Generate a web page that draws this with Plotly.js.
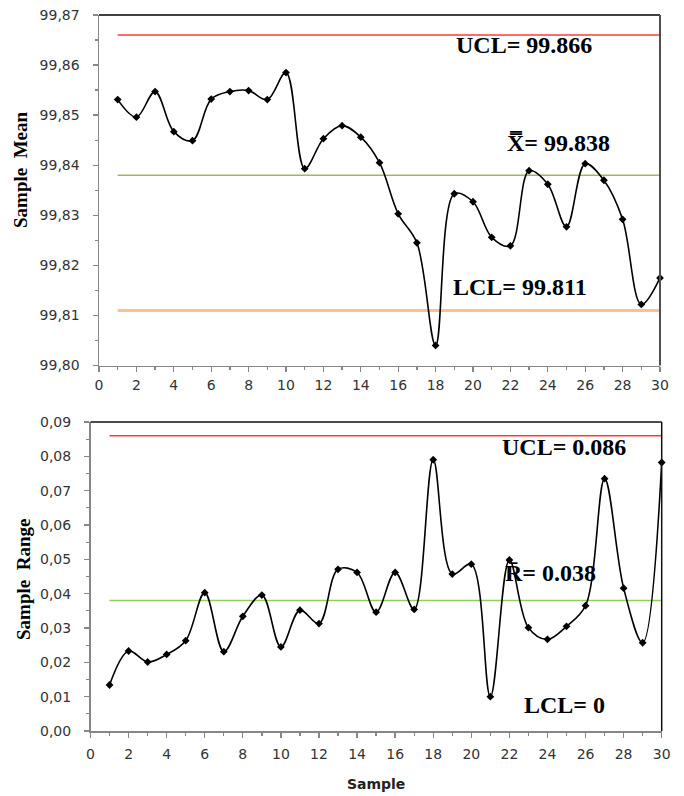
<!DOCTYPE html>
<html>
<head>
<meta charset="utf-8">
<script src="https://cdn.plot.ly/plotly-3.0.1.min.js"></script>
<style>html,body{margin:0;padding:0;background:#fff}#chart{width:684px;height:796px}</style>
</head>
<body>
<div id="chart"></div>
<script>
// ---- data ----
const sampleNo = [1,2,3,4,5,6,7,8,9,10,11,12,13,14,15,16,17,18,19,20,21,22,23,24,25,26,27,28,29,30];
const meanVals = [99.8531, 99.8496, 99.8547, 99.8467, 99.8449, 99.8532, 99.8547, 99.8549, 99.8531, 99.8585,
                  99.8393, 99.8453, 99.8479, 99.8456, 99.8405, 99.8303, 99.8245, 99.8040, 99.8343, 99.8327,
                  99.8256, 99.8239, 99.8389, 99.8362, 99.8277, 99.8403, 99.8370, 99.8292, 99.8122, 99.8175];
const rangeVals = [0.0134, 0.0233, 0.0201, 0.0223, 0.0263, 0.0403, 0.0231, 0.0334, 0.0396, 0.0245,
                   0.0352, 0.0313, 0.0471, 0.0462, 0.0346, 0.0462, 0.0354, 0.0790, 0.0457, 0.0486,
                   0.0100, 0.0498, 0.0301, 0.0267, 0.0305, 0.0365, 0.0735, 0.0416, 0.0257, 0.0782];
const limitSpan = [1, 30];
const xbarLimits = {UCL: 99.866, CL: 99.838, LCL: 99.811};
const rLimits = {UCL: 0.086, CL: 0.038, LCL: 0};
const meanTicks = [99.80, 99.81, 99.82, 99.83, 99.84, 99.85, 99.86, 99.87];
const rangeTicks = [0, 0.01, 0.02, 0.03, 0.04, 0.05, 0.06, 0.07, 0.08, 0.09];
const sampleTicks = [0,2,4,6,8,10,12,14,16,18,20,22,24,26,28,30];

// ---- styles ----
const tickFont = {family: 'DejaVu Sans', size: 14, color: '#333333'};
const annFont = {family: 'Liberation Serif', size: 24, color: '#000000'};
const axisGray = '#868686';

function flat(v) { return limitSpan.map(() => v); }
function limitTrace(v, color, width, xa, ya) {
  return {x: limitSpan, y: flat(v), mode: 'lines', xaxis: xa, yaxis: ya,
          line: {color: color, width: width}, hoverinfo: 'skip', showlegend: false};
}
function dataTrace(vals, xa, ya) {
  return {x: sampleNo, y: vals, mode: 'lines+markers', xaxis: xa, yaxis: ya,
          line: {color: '#000000', width: 1.6, shape: 'spline', smoothing: 1.0},
          marker: {symbol: 'diamond', size: 6, color: '#000000'},
          cliponaxis: false, showlegend: false};
}

const traces = [
  limitTrace(xbarLimits.UCL, '#FF3B3B', 1.6, 'x', 'y'),
  limitTrace(xbarLimits.CL, '#9BBB59', 1.6, 'x', 'y'),
  limitTrace(xbarLimits.LCL, '#FAC090', 3, 'x', 'y'),
  dataTrace(meanVals, 'x', 'y'),
  limitTrace(rLimits.UCL, '#FF3B3B', 1.6, 'x2', 'y2'),
  limitTrace(rLimits.CL, '#92D050', 1.6, 'x2', 'y2'),
  dataTrace(rangeVals, 'x2', 'y2')
];

function xAxis(domain, anchor, standoff) {
  return {domain: domain, anchor: anchor, range: [0, 30], tickvals: sampleTicks,
          ticks: 'outside', ticklen: 5, tickcolor: axisGray, tickwidth: 1.3,
          minor: {dtick: 1, tick0: 0, ticks: 'outside', ticklen: 3, tickcolor: axisGray},
          showline: true, linecolor: axisGray, linewidth: 1.5, showgrid: false, zeroline: false,
          tickfont: tickFont, ticklabelstandoff: standoff, fixedrange: true};
}
function yAxis(domain, anchor, range, ticks, standoff) {
  return {domain: domain, anchor: anchor, range: range, tickvals: ticks, tickformat: '.2f',
          ticks: 'outside', ticklen: 5, tickcolor: axisGray, tickwidth: 1.3,
          minor: {dtick: (ticks[1]-ticks[0])/2, tick0: ticks[0], ticks: 'outside', ticklen: 3, tickcolor: axisGray},
          showline: true, linecolor: axisGray, linewidth: 1.5, showgrid: false, zeroline: false,
          tickfont: tickFont, ticklabelstandoff: standoff, fixedrange: true};
}

const layout = {
  width: 684, height: 796,
  margin: {l: 0, r: 0, t: 0, b: 0},
  paper_bgcolor: '#ffffff', plot_bgcolor: '#ffffff',
  separators: ',.',
  showlegend: false,
  xaxis: xAxis([99/684, 660/684], 'y', 1),
  yaxis: yAxis([(796-365.5)/796, (796-15)/796], 'x', [99.80, 99.87], meanTicks, 10),
  xaxis2: Object.assign(xAxis([90.5/684, 661.7/684], 'y2', 5),
          {title: {text: 'Sample', font: {family: 'DejaVu Sans', size: 14, color: '#222', weight: 'bold'}, standoff: 18}}),
  yaxis2: yAxis([(796-731)/796, (796-422)/796], 'x2', [0, 0.09], rangeTicks, 10),
  shapes: [
    {type: 'line', xref: 'x domain', yref: 'y domain', x0: 0, x1: 1, y0: 1, y1: 1, line: {color: '#404040', width: 2}},
    {type: 'line', xref: 'x domain', yref: 'y domain', x0: 1, x1: 1, y0: 0, y1: 1, line: {color: '#505050', width: 2}},
    {type: 'line', xref: 'x2 domain', yref: 'y2 domain', x0: 0, x1: 1, y0: 1, y1: 1, line: {color: '#111111', width: 1.5}},
    {type: 'line', xref: 'x2 domain', yref: 'y2 domain', x0: 1, x1: 1, y0: 0, y1: 1, line: {color: '#111111', width: 1.5}}
  ],
  annotations: [
    {xref: 'x', yref: 'y', x: 22.73, y: 99.864, text: '<b>UCL= ' + xbarLimits.UCL.toFixed(3) + '</b>', showarrow: false, font: annFont},
    {xref: 'x', yref: 'y', x: 24.57, y: 99.8444, text: '<b>X\u033F= ' + xbarLimits.CL.toFixed(3) + '</b>', showarrow: false, font: annFont},
    {xref: 'x', yref: 'y', x: 22.51, y: 99.8156, text: '<b>LCL= ' + xbarLimits.LCL.toFixed(3) + '</b>', showarrow: false, font: annFont},
    {xref: 'x2', yref: 'y2', x: 24.87, y: 0.0827, text: '<b>UCL= ' + rLimits.UCL.toFixed(3) + '</b>', showarrow: false, font: annFont},
    {xref: 'x2', yref: 'y2', x: 24.16, y: 0.046, text: '<b>R\u0304= ' + rLimits.CL.toFixed(3) + '</b>', showarrow: false, font: annFont},
    {xref: 'x2', yref: 'y2', x: 24.92, y: 0.0076, text: '<b>LCL= ' + rLimits.LCL + '</b>', showarrow: false, font: annFont},
    {xref: 'paper', yref: 'paper', x: 21/684, y: (796-170)/796, xanchor: 'center', yanchor: 'middle',
     text: '<b>Sample\u00A0 Mean</b>', textangle: -90, showarrow: false,
     font: {family: 'Liberation Serif', size: 19, color: '#000'}},
    {xref: 'paper', yref: 'paper', x: 23/684, y: (796-580)/796, xanchor: 'center', yanchor: 'middle',
     text: '<b>Sample\u00A0 Range</b>', textangle: -90, showarrow: false,
     font: {family: 'Liberation Serif', size: 19, color: '#000'}}
  ]
};

Plotly.newPlot('chart', traces, layout, {displayModeBar: false, staticPlot: true});
</script>
</body>
</html>
